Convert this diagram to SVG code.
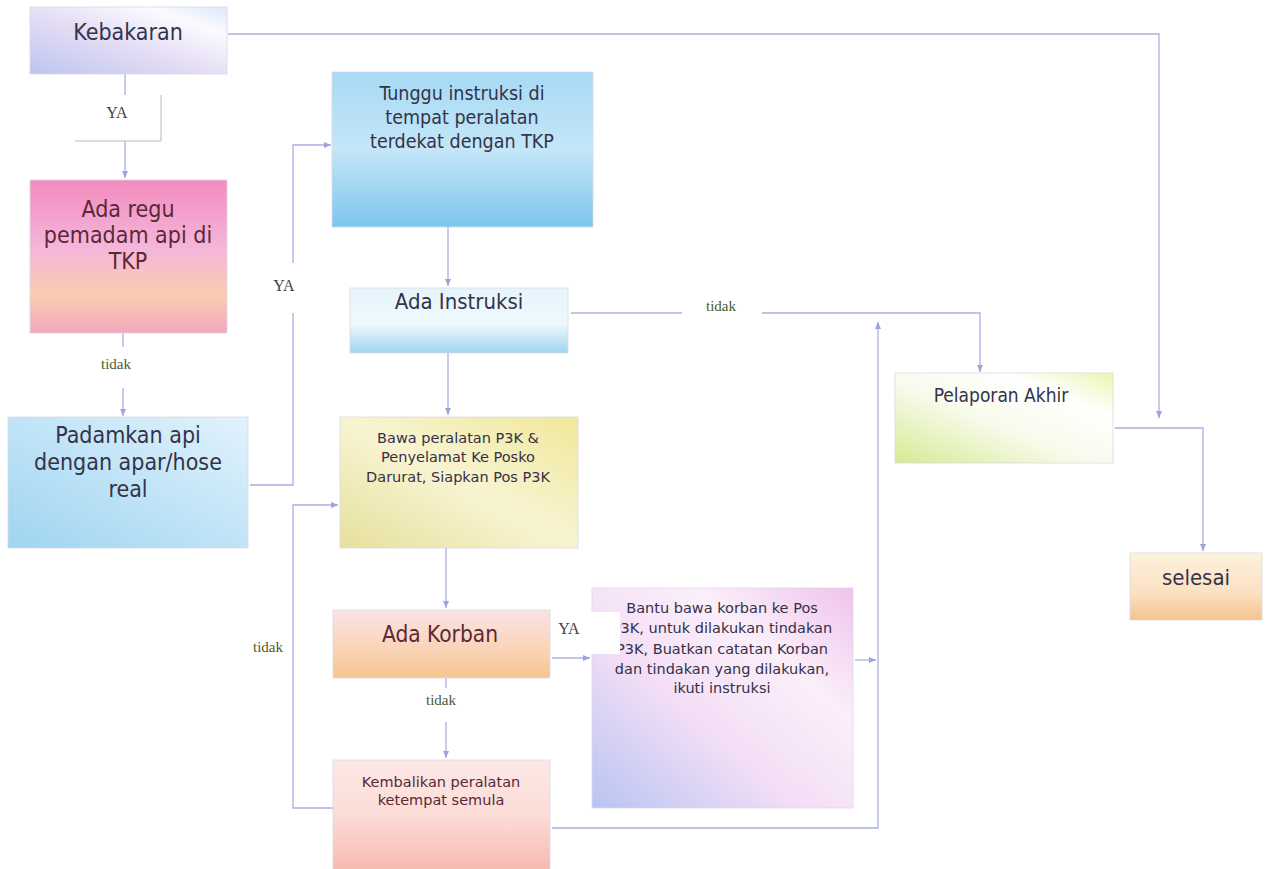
<svg xmlns="http://www.w3.org/2000/svg" width="1265" height="869" viewBox="0 0 1265 869">
<style>
.big{font-family:"DejaVu Sans Condensed","DejaVu Sans","Noto Sans",sans-serif;font-stretch:condensed;text-anchor:middle;fill:#33334a}
.sm{font-family:"DejaVu Sans","Noto Sans",sans-serif;font-size:14.5px;text-anchor:middle;fill:#363048}
.mar{fill:#5a2838}
.lbl{font-family:"Liberation Serif",serif;font-size:16px;text-anchor:middle;fill:#444}
.tid{font-family:"Liberation Serif",serif;font-size:15px;text-anchor:middle;fill:#4a5a34}
.con{fill:none;stroke:#aab0e2;stroke-width:1.3}
.box{stroke:#dadae4;stroke-width:0.8}
</style>
<defs>
<marker id="ah" markerWidth="8" markerHeight="8" refX="7" refY="4" orient="auto" markerUnits="userSpaceOnUse">
<path d="M0,1 L7,4 L0,7 Z" fill="#9ea4dc"/>
</marker>
<linearGradient id="gKeb" x1="0" y1="1" x2="1" y2="0"><stop offset="0" stop-color="#bcc6f0"/><stop offset="0.45" stop-color="#e4dcf4"/><stop offset="0.8" stop-color="#fbfbff"/><stop offset="1" stop-color="#dce8fa"/></linearGradient>
<linearGradient id="gReg" x1="0" y1="0" x2="0" y2="1"><stop offset="0" stop-color="#f28cbe"/><stop offset="0.45" stop-color="#f5b6da"/><stop offset="0.75" stop-color="#f8cdb0"/><stop offset="1" stop-color="#f5a8bc"/></linearGradient>
<linearGradient id="gPad" x1="0" y1="1" x2="1" y2="0"><stop offset="0" stop-color="#9fd4f0"/><stop offset="0.5" stop-color="#c0e4f7"/><stop offset="1" stop-color="#e2f2fc"/></linearGradient>
<linearGradient id="gTun" x1="0" y1="0" x2="0" y2="1"><stop offset="0" stop-color="#a6daf4"/><stop offset="0.5" stop-color="#c4e6f8"/><stop offset="1" stop-color="#7cc6ec"/></linearGradient>
<linearGradient id="gIns" x1="0" y1="0" x2="0" y2="1"><stop offset="0" stop-color="#e6f5fc"/><stop offset="0.55" stop-color="#eef9fd"/><stop offset="1" stop-color="#9ed6f0"/></linearGradient>
<linearGradient id="gBaw" x1="0" y1="1" x2="1" y2="0"><stop offset="0" stop-color="#e6e09c"/><stop offset="0.5" stop-color="#f8f4d2"/><stop offset="1" stop-color="#f0e89a"/></linearGradient>
<linearGradient id="gKor" x1="0" y1="0" x2="0" y2="1"><stop offset="0" stop-color="#fbe2e4"/><stop offset="0.5" stop-color="#fad6bc"/><stop offset="1" stop-color="#f7c690"/></linearGradient>
<linearGradient id="gKem" x1="0" y1="0" x2="0" y2="1"><stop offset="0" stop-color="#fde8e6"/><stop offset="0.5" stop-color="#fcdcd6"/><stop offset="1" stop-color="#f6b8b0"/></linearGradient>
<linearGradient id="gBan" x1="0" y1="1" x2="1" y2="0"><stop offset="0" stop-color="#b8c4f2"/><stop offset="0.4" stop-color="#f3def6"/><stop offset="0.7" stop-color="#fbeffa"/><stop offset="1" stop-color="#efc2ec"/></linearGradient>
<linearGradient id="gPel" x1="0" y1="1" x2="1" y2="0"><stop offset="0" stop-color="#d6ea94"/><stop offset="0.45" stop-color="#f8fbec"/><stop offset="0.75" stop-color="#ffffff"/><stop offset="1" stop-color="#ecf5b0"/></linearGradient>
<linearGradient id="gSel" x1="0" y1="0" x2="0" y2="1"><stop offset="0" stop-color="#fdf2dc"/><stop offset="0.6" stop-color="#fbe0c2"/><stop offset="1" stop-color="#f6c28e"/></linearGradient>
</defs>
<rect width="1265" height="869" fill="#ffffff"/>

<g id="connectors">
<path class="con" d="M228,34 H1159 V418" marker-end="url(#ah)"/>
<path class="con" d="M1115,428 H1203 V551" marker-end="url(#ah)"/>
<path class="con" d="M125,73 V95"/>
<path class="con" d="M125,141 V178" marker-end="url(#ah)"/>
<path class="con" d="M123,333 V347"/>
<path class="con" d="M123,388 V416" marker-end="url(#ah)"/>
<path class="con" d="M250,485 H293 V313"/>
<path class="con" d="M293,263 V145 H331" marker-end="url(#ah)"/>
<path class="con" d="M448,227 V286" marker-end="url(#ah)"/>
<path class="con" d="M571,313 H682"/>
<path class="con" d="M762,313 H980 V372" marker-end="url(#ah)"/>
<path class="con" d="M448,353 V415" marker-end="url(#ah)"/>
<path class="con" d="M446,548 V608" marker-end="url(#ah)"/>
<path class="con" d="M446,678 V688"/>
<path class="con" d="M446,722 V758" marker-end="url(#ah)"/>
<path class="con" d="M552,658 H590" marker-end="url(#ah)"/>
<path class="con" d="M333,808 H293 V505 H338" marker-end="url(#ah)"/>
<path class="con" d="M552,828 H878 V322" marker-end="url(#ah)"/>
<path class="con" d="M855,660 H876" marker-end="url(#ah)"/>
</g>

<g id="lbl-ya1">
<rect x="75" y="95" width="86" height="46" fill="#ffffff"/>
<path d="M161,95 V141 H75" fill="none" stroke="#b8b8c4" stroke-width="1"/>
<text class="lbl" x="117" y="118">YA</text>
</g>
<g id="lbl-tidak1"><text class="tid" x="116" y="369">tidak</text></g>
<g id="lbl-ya2"><text class="lbl" x="284" y="291">YA</text></g>
<g id="lbl-tidak2"><text class="tid" x="721" y="311">tidak</text></g>
<g id="lbl-tidak3"><text class="tid" x="268" y="652">tidak</text></g>
<g id="lbl-tidak4"><text class="tid" x="441" y="705">tidak</text></g>

<g id="n-kebakaran">
<rect class="box" x="30" y="7" width="197" height="67" fill="url(#gKeb)"/>
<text class="big" x="128" y="40" font-size="23">Kebakaran</text>
</g>
<g id="n-regu">
<rect class="box" x="30" y="180" width="197" height="153" fill="url(#gReg)"/>
<text class="big mar" x="128" y="217" font-size="23">Ada regu</text>
<text class="big mar" x="128" y="243" font-size="23">pemadam api di</text>
<text class="big mar" x="128" y="269" font-size="23">TKP</text>
</g>
<g id="n-padamkan">
<rect class="box" x="8" y="417" width="240" height="131" fill="url(#gPad)"/>
<text class="big" x="128" y="443" font-size="23">Padamkan api</text>
<text class="big" x="128" y="470" font-size="23">dengan apar/hose</text>
<text class="big" x="128" y="497" font-size="23">real</text>
</g>
<g id="n-tunggu">
<rect class="box" x="332" y="72" width="261" height="155" fill="url(#gTun)"/>
<text class="big" x="462" y="100" font-size="19.5">Tunggu instruksi di</text>
<text class="big" x="462" y="124" font-size="19.5">tempat peralatan</text>
<text class="big" x="462" y="148" font-size="19.5">terdekat dengan TKP</text>
</g>
<g id="n-instruksi">
<rect class="box" x="350" y="288" width="218" height="65" fill="url(#gIns)"/>
<text class="big" x="459" y="309" font-size="22">Ada Instruksi</text>
</g>
<g id="n-bawa">
<rect class="box" x="340" y="417" width="238" height="131" fill="url(#gBaw)"/>
<text class="sm" x="458" y="443">Bawa peralatan P3K &amp;</text>
<text class="sm" x="458" y="462">Penyelamat  Ke Posko</text>
<text class="sm" x="458" y="482">Darurat, Siapkan Pos P3K</text>
</g>
<g id="n-korban">
<rect class="box" x="333" y="610" width="217" height="68" fill="url(#gKor)"/>
<text class="big mar" x="440" y="642" font-size="22.5">Ada Korban</text>
</g>
<g id="n-kembalikan">
<rect class="box" x="333" y="760" width="217" height="112" fill="url(#gKem)"/>
<text class="sm mar" x="441" y="787">Kembalikan peralatan</text>
<text class="sm mar" x="441" y="805">ketempat semula</text>
</g>
<g id="n-bantu">
<rect class="box" x="592" y="588" width="261" height="220" fill="url(#gBan)"/>
<text class="sm" x="722" y="613" font-size="15">Bantu bawa korban ke Pos</text>
<text class="sm" x="722" y="633" font-size="15">P3K, untuk dilakukan tindakan</text>
<text class="sm" x="722" y="654" font-size="15">P3K, Buatkan catatan Korban</text>
<text class="sm" x="722" y="674" font-size="15">dan tindakan yang dilakukan,</text>
<text class="sm" x="722" y="693" font-size="15">ikuti instruksi</text>
</g>
<g id="lbl-ya3">
<rect x="553" y="612" width="67" height="42" fill="#ffffff"/>
<text class="lbl" x="569" y="634">YA</text>
</g>
<g id="n-pelaporan">
<rect class="box" x="895" y="373" width="218" height="90" fill="url(#gPel)"/>
<text class="big" x="1001" y="402" font-size="19">Pelaporan Akhir</text>
</g>
<g id="n-selesai">
<rect class="box" x="1130" y="553" width="132" height="67" fill="url(#gSel)"/>
<text class="big" x="1196" y="585" font-size="22">selesai</text>
</g>
</svg>
